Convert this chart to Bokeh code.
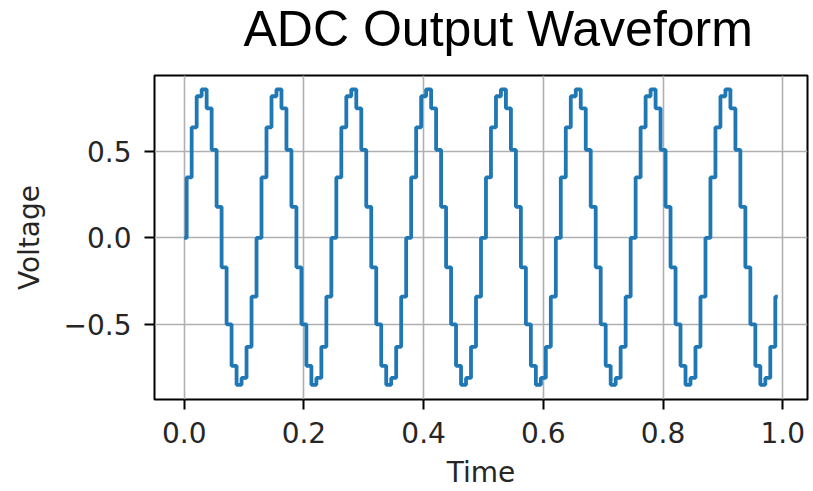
from bokeh.plotting import figure
from bokeh.models import Range1d, FixedTicker, CustomJSTickFormatter
from bokeh.embed import file_html
from bokeh.resources import INLINE

title_text = "ADC Output Waveform"
x_label = "Time"
y_label = "Voltage"
x_ticks = [0.0, 0.2, 0.4, 0.6, 0.8, 1.0]
y_ticks = [-0.5, 0.0, 0.5]

# sample times (s) (about 15 samples per cycle)
time = [
    0.0000, 0.0083, 0.0167, 0.0250, 0.0333, 0.0417, 0.0500, 0.0583, 0.0667, 0.0750, 0.0833, 0.0917, 0.1000, 0.1083, 0.1167,
    0.1250, 0.1333, 0.1417, 0.1500, 0.1583, 0.1667, 0.1750, 0.1833, 0.1917, 0.2000, 0.2083, 0.2167, 0.2250, 0.2333, 0.2417,
    0.2500, 0.2583, 0.2667, 0.2750, 0.2833, 0.2917, 0.3000, 0.3083, 0.3167, 0.3250, 0.3333, 0.3417, 0.3500, 0.3583, 0.3667,
    0.3750, 0.3833, 0.3917, 0.4000, 0.4083, 0.4167, 0.4250, 0.4333, 0.4417, 0.4500, 0.4583, 0.4667, 0.4750, 0.4833, 0.4917,
    0.5000, 0.5083, 0.5167, 0.5250, 0.5333, 0.5417, 0.5500, 0.5583, 0.5667, 0.5750, 0.5833, 0.5917, 0.6000, 0.6083, 0.6167,
    0.6250, 0.6333, 0.6417, 0.6500, 0.6583, 0.6667, 0.6750, 0.6833, 0.6917, 0.7000, 0.7083, 0.7167, 0.7250, 0.7333, 0.7417,
    0.7500, 0.7583, 0.7667, 0.7750, 0.7833, 0.7917, 0.8000, 0.8083, 0.8167, 0.8250, 0.8333, 0.8417, 0.8500, 0.8583, 0.8667,
    0.8750, 0.8833, 0.8917, 0.9000, 0.9083, 0.9167, 0.9250, 0.9333, 0.9417, 0.9500, 0.9583, 0.9667, 0.9750, 0.9833, 0.9917,
]

# ADC output levels (V)
voltage = [
    0.00, 0.35, 0.64, 0.82, 0.86, 0.75, 0.51, 0.18, -0.17, -0.50, -0.74, -0.85, -0.81, -0.63, -0.34,
    0.00, 0.35, 0.64, 0.82, 0.86, 0.75, 0.51, 0.18, -0.17, -0.50, -0.74, -0.85, -0.81, -0.63, -0.34,
    0.00, 0.35, 0.64, 0.82, 0.86, 0.75, 0.51, 0.18, -0.17, -0.50, -0.74, -0.85, -0.81, -0.63, -0.34,
    0.00, 0.35, 0.64, 0.82, 0.86, 0.75, 0.51, 0.18, -0.17, -0.50, -0.74, -0.85, -0.81, -0.63, -0.34,
    0.00, 0.35, 0.64, 0.82, 0.86, 0.75, 0.51, 0.18, -0.17, -0.50, -0.74, -0.85, -0.81, -0.63, -0.34,
    0.00, 0.35, 0.64, 0.82, 0.86, 0.75, 0.51, 0.18, -0.17, -0.50, -0.74, -0.85, -0.81, -0.63, -0.34,
    0.00, 0.35, 0.64, 0.82, 0.86, 0.75, 0.51, 0.18, -0.17, -0.50, -0.74, -0.85, -0.81, -0.63, -0.34,
    0.00, 0.35, 0.64, 0.82, 0.86, 0.75, 0.51, 0.18, -0.17, -0.50, -0.74, -0.85, -0.81, -0.63, -0.34,
]

p = figure(width=813, height=491, output_backend="svg", toolbar_location=None,
           x_range=Range1d(-0.0496, 1.0413), y_range=Range1d(-0.935, 0.94),
           min_border_left=154, min_border_right=6, min_border_top=74, min_border_bottom=88)

p.step(time, voltage, mode="center", line_color="#1f77b4", line_width=3.8)

# an empty second line gives the title box extra height below the text,
# so the title sits near the top of the page with a gap above the frame
p.title.text = title_text + "\n"
p.title.text_font = "Liberation Sans"
p.title.text_font_size = "50px"
p.title.text_font_style = "normal"
p.title.text_color = "black"
p.title.text_line_height = 0.3
p.title.align = "left"
p.title.offset = 89
p.title.vertical_align = "top"
p.title.standoff = 0

p.outline_line_color = "black"
p.outline_line_width = 2
p.outline_line_alpha = 1.0
p.background_fill_color = "white"
p.border_fill_color = "white"

for ax in (p.xaxis[0], p.yaxis[0]):
    ax.axis_line_color = None
    ax.major_tick_line_color = "black"
    ax.major_tick_line_width = 2
    ax.major_tick_out = 10
    ax.major_tick_in = 0
    ax.minor_tick_line_color = None
    ax.major_label_text_font = "DejaVu Sans"
    ax.major_label_text_font_size = "28px"
    ax.major_label_text_color = "#262626"
    ax.axis_label_text_font = "DejaVu Sans"
    ax.axis_label_text_font_size = "28px"
    ax.axis_label_text_font_style = "normal"
    ax.axis_label_text_color = "#262626"
    ax.formatter = CustomJSTickFormatter(code="return tick.toFixed(1).replace('-', '\u2212');")

p.xaxis[0].ticker = FixedTicker(ticks=x_ticks)
p.yaxis[0].ticker = FixedTicker(ticks=y_ticks)
p.xaxis[0].axis_label = x_label
p.yaxis[0].axis_label = y_label
p.xaxis[0].major_label_standoff = 12
p.xaxis[0].axis_label_standoff = 10
p.yaxis[0].major_label_standoff = 13
p.yaxis[0].axis_label_standoff = 15

for g in (p.xgrid[0], p.ygrid[0]):
    g.grid_line_color = "#b0b0b0"
    g.grid_line_width = 1.6
p.xgrid[0].ticker = FixedTicker(ticks=x_ticks)
p.ygrid[0].ticker = FixedTicker(ticks=y_ticks)

open("out.html", "w").write(file_html(p, INLINE))
